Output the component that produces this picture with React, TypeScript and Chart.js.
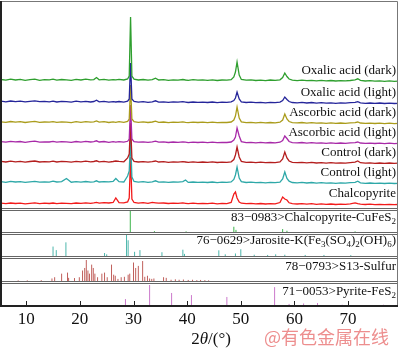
import React, { useEffect, useRef } from "react";
import { Chart, registerables } from "chart.js";
Chart.register(...registerables);

// ---------- data ----------
const twoTheta = [
  5.3, 6.2, 7.1, 8.0, 8.9, 9.8, 10.7, 11.6, 12.5, 13.4,
  14.3, 15.0, 15.7, 16.6, 17.5, 18.4, 19.3, 20.2, 21.1, 22.0,
  22.6, 23.1, 23.6, 24.5, 25.4, 26.2, 26.7, 27.3, 28.2, 28.9,
  29.2, 29.45, 29.7, 30.1, 30.9, 31.8, 32.7, 33.5, 34.1, 34.7,
  35.6, 36.5, 37.4, 38.3, 39.2, 39.7, 40.2, 41.1, 42.0, 42.9,
  43.8, 44.7, 45.6, 46.5, 47.4, 48.2, 48.7, 49.0, 49.3, 49.7,
  50.1, 51.0, 51.9, 52.8, 53.7, 54.6, 55.5, 56.4, 57.3, 57.8,
  58.2, 58.6, 59.0, 59.6, 60.5, 61.4, 62.3, 63.2, 64.1, 65.0,
  65.9, 66.8, 67.7, 68.6, 69.5, 70.4, 71.3, 71.8, 72.3, 73.2,
  74.1, 75.0, 75.9, 76.8, 77.7, 78.6, 79.3,
];

const oxalicDark = [
  1.5, 0.8, 1.9, 1.0, 1.6, 0.6, 1.4, 1.9, 0.7, 1.3,
  1.1, 1.8, 0.9, 1.5, 1.2, 0.7, 1.6, 1.0, 1.8, 1.2,
  1.4, 3.5, 1.2, 1.6, 0.8, 1.4, 1.1, 1.7, 1.0, 2.0,
  5, 64, 5, 1.8, 1.0, 1.5, 0.8, 1.3, 2.8, 1.0,
  1.4, 0.7, 1.2, 0.9, 1.5, 1.0, 0.6, 1.3, 0.8, 1.1,
  0.7, 1.2, 0.5, 1.0, 0.8, 1.4, 4, 9, 19, 6,
  1.5, 0.8, 1.1, 0.5, 0.9, 0.4, 1.0, 0.6, 1.2, 3.5,
  8, 4.5, 2, 0.8, 0.4, 0.9, 0.3, 0.7, 0.2, 0.6,
  0.1, 0.5, 0.0, 0.4, 0.1, 0.5, 1.2, 2.2, 0.6, 0.0,
  0.3, -0.2, 0.2, -0.3, 0.1, -0.4, -0.1,
];

const oxalicLight = [
  1.8, 1.2, 2.0, 1.4, 1.9, 1.1, 1.7, 2.1, 1.3, 1.6,
  1.2, 1.9, 1.0, 1.7, 1.3, 0.9, 1.8, 1.2, 1.6, 1.0,
  1.5, 2.8, 1.1, 1.6, 0.9, 1.4, 1.0, 1.5, 0.8, 1.8,
  4, 40, 4, 1.5, 0.9, 1.3, 0.7, 1.2, 2.2, 0.9,
  1.2, 0.6, 1.1, 0.8, 1.3, 0.9, 0.5, 1.0, 0.6, 0.9,
  0.5, 1.0, 0.4, 0.8, 0.6, 1.1, 2.5, 5, 11, 4,
  1.2, 0.5, 0.8, 0.3, 0.7, 0.2, 0.6, 0.3, 0.9, 2.5,
  6, 3.5, 1.5, 0.5, 0.2, 0.6, 0.0, 0.5, -0.1, 0.3,
  -0.2, 0.2, -0.3, 0.1, -0.2, 0.3, 0.6, 1.4, 0.2, -0.3,
  0.0, -0.4, 0.0, -0.5, -0.1, -0.5, -0.3,
];

const ascorbicDark = [
  1.2, 0.6, 1.5, 0.9, 1.3, 0.5, 1.1, 1.6, 0.6, 1.0,
  0.8, 1.4, 0.6, 1.2, 0.9, 0.4, 1.3, 0.7, 1.4, 0.8,
  1.1, 2.0, 0.8, 1.3, 0.5, 1.1, 0.7, 1.3, 0.6, 1.6,
  4, 38, 4, 1.3, 0.7, 1.1, 0.5, 1.0, 1.8, 0.7,
  1.0, 0.4, 0.9, 0.6, 1.2, 0.7, 0.3, 0.9, 0.5, 0.8,
  0.4, 0.9, 0.3, 0.7, 0.5, 1.0, 3, 7, 16, 5,
  1.1, 0.4, 0.7, 0.2, 0.6, 0.1, 0.5, 0.2, 0.8, 3,
  9, 4, 1.5, 0.4, 0.1, 0.5, -0.1, 0.4, -0.2, 0.2,
  -0.3, 0.1, -0.4, 0.0, -0.3, 0.2, 0.4, 1.0, 0.0, -0.4,
  -0.1, -0.5, -0.2, -0.6, -0.2, -0.6, -0.4,
];

const ascorbicLight = [
  1.4, 0.8, 1.7, 1.1, 1.5, 0.7, 1.3, 1.8, 0.8, 1.2,
  1.0, 1.6, 0.8, 1.4, 1.1, 0.6, 1.5, 0.9, 1.6, 1.0,
  1.3, 2.2, 1.0, 1.5, 0.7, 1.3, 0.9, 1.4, 0.8, 1.7,
  4, 38, 4, 1.4, 0.8, 1.2, 0.6, 1.1, 1.9, 0.8,
  1.1, 0.5, 1.0, 0.7, 1.2, 0.8, 0.4, 0.9, 0.5, 0.8,
  0.4, 0.9, 0.3, 0.7, 0.5, 1.0, 3, 6, 15, 7,
  1.4, 0.4, 0.7, 0.2, 0.6, 0.1, 0.5, 0.2, 0.8, 2.5,
  7, 4.5, 1.5, 0.4, 0.1, 0.5, -0.1, 0.4, -0.2, 0.2,
  -0.3, 0.1, -0.4, 0.0, -0.3, 0.2, 0.4, 1.0, 0.0, -0.4,
  -0.1, -0.5, -0.2, -0.6, -0.2, -0.6, -0.4,
];

const controlDark = [
  1.6, 1.0, 1.8, 1.2, 1.7, 0.9, 1.5, 2.0, 1.0, 1.4,
  1.2, 1.8, 1.0, 1.6, 1.3, 0.8, 1.7, 1.1, 1.8, 1.2,
  1.5, 2.2, 1.2, 1.7, 0.9, 1.5, 2.0, 1.6, 1.2, 5,
  9, 40, 5, 1.6, 1.0, 1.4, 0.8, 1.3, 2.0, 1.0,
  1.3, 0.7, 1.2, 0.9, 1.4, 1.0, 0.6, 1.1, 0.7, 1.0,
  0.6, 1.1, 0.5, 0.9, 0.7, 1.2, 3.5, 8, 16, 6,
  1.6, 0.6, 0.9, 0.4, 0.8, 0.3, 0.7, 0.4, 1.0, 4,
  11, 5, 2, 0.6, 0.3, 0.7, 0.1, 0.6, 0.0, 0.4,
  -0.1, 0.3, -0.2, 0.2, -0.1, 0.4, 0.8, 2.0, 0.3, -0.2,
  0.1, -0.3, 0.0, -0.4, 0.0, -0.4, -0.2,
];

const controlLight = [
  1.3, 0.7, 1.6, 1.0, 1.4, 0.6, 1.2, 1.7, 0.8, 1.1,
  0.9, 1.8, 1.0, 1.4, 4.5, 0.8, 1.4, 0.8, 1.5, 0.9,
  1.2, 2.2, 1.0, 1.4, 1.2, 1.6, 4.5, 1.3, 1.0, 7,
  12, 45, 6, 1.5, 0.9, 1.3, 0.7, 1.2, 2.2, 0.9,
  1.1, 0.6, 1.0, 0.8, 1.4, 3.0, 0.6, 1.0, 0.6, 0.9,
  0.5, 1.0, 0.4, 0.8, 0.6, 1.1, 3.5, 8, 16, 5,
  1.4, 0.5, 0.8, 0.3, 0.7, 0.2, 0.6, 0.3, 0.9, 4,
  11, 4.5, 1.8, 0.5, 0.2, 0.6, 0.0, 0.5, -0.1, 0.3,
  -0.2, 0.2, -0.3, 0.1, -0.2, 0.3, 0.7, 1.8, 0.2, -0.3,
  0.0, -0.4, -0.1, -0.5, -0.1, -0.5, -0.3,
];

const chalcopyriteRaw = [
  0.8, 0.3, 1.0, 0.5, 0.9, 0.2, 0.7, 1.1, 0.4, 0.8,
  0.5, 1.0, 0.4, 0.9, 0.6, 0.3, 1.0, 0.6, 1.2, 0.7,
  1.1, 1.6, 0.9, 1.4, 1.0, 1.5, 6, 1.3, 1.1, 2.0,
  6, 47, 5, 1.5, 0.9, 1.3, 0.7, 1.6, 1.2, 0.8,
  1.0, 0.5, 0.9, 0.6, 1.1, 0.7, 0.3, 0.8, 0.4, 0.7,
  0.3, 0.8, 0.2, 0.6, 0.4, 1.5, 10, 12, 6, 2,
  0.8, 0.3, 0.6, 0.1, 0.5, 0.0, 0.4, 0.1, 1.5, 7,
  5, 4, 1.2, 0.3, 0.0, 0.4, -0.2, 0.3, -0.3, 0.1,
  -0.4, 0.0, -0.5, -0.1, -0.4, 0.1, 1.2, 0.3, -0.2, -0.5,
  -0.2, -0.6, -0.3, -0.7, -0.3, -0.7, -0.5,
];

const traceNames = [
  "Oxalic acid (dark)",
  "Oxalic acid (light)",
  "Ascorbic acid (dark)",
  "Ascorbic acid (light)",
  "Control (dark)",
  "Control (light)",
  "Chalcopyrite",
];

// reference patterns: [2θ, relative intensity %]
const refChalcopyrite = [
  [29.4, 100], [33.9, 4], [39.8, 3], [48.7, 25], [49.1, 10],
  [57.8, 14], [58.6, 6], [71.3, 3],
];
const refJarosite = [
  [15.0, 45], [15.6, 28], [17.4, 65], [24.6, 14], [25.0, 8],
  [28.7, 100], [29.0, 75], [30.2, 20], [31.2, 28], [35.3, 18],
  [39.2, 30], [39.5, 10], [45.9, 27], [47.1, 8], [49.0, 12],
  [50.0, 32], [52.5, 6], [55.0, 5], [56.5, 8], [58.2, 6],
  [62.0, 5], [65.5, 5], [70.5, 4],
];
const refSulfur = [
  [8.5, 3], [10.2, 3], [12.8, 4], [14.8, 12], [15.3, 18], [16.6, 35],
  [17.7, 40], [17.9, 15], [19.0, 14], [19.9, 18], [20.5, 50],
  [20.9, 62], [21.2, 100], [21.5, 50], [21.8, 35], [22.2, 78],
  [22.5, 62], [22.8, 35], [23.3, 18], [24.1, 35], [24.6, 40],
  [25.1, 18], [25.9, 78], [26.3, 30], [26.6, 25], [27.1, 10],
  [27.7, 18], [28.3, 20], [29.0, 30], [29.3, 35], [30.0, 88],
  [30.4, 62], [30.9, 72], [31.7, 95], [32.1, 20], [32.6, 25],
  [33.0, 12], [33.4, 10], [33.8, 12], [35.6, 18], [36.1, 15],
  [37.0, 6], [37.8, 8], [38.5, 6], [39.3, 7], [40.2, 5],
  [41.0, 6], [41.8, 4], [42.5, 5], [43.3, 4], [44.0, 3],
];
const refPyrite = [
  [28.5, 33], [33.0, 100], [37.1, 62], [40.8, 52], [47.4, 43],
  [56.3, 90], [59.0, 10], [61.7, 12], [64.3, 14], [68.9, 6],
  [76.6, 6], [78.9, 5],
];

type Seg = [string, boolean];
const refLabels: Seg[][] = [
  [["83\u22120983>Chalcopyrite-CuFeS", false], ["2", true]],
  [["76\u22120629>Jarosite-K(Fe", false], ["3", true], ["(SO", false], ["4", true], [")", false], ["2", true], ["(OH)", false], ["6", true], [")", false]],
  [["78\u22120793>S13-Sulfur", false]],
  [["71\u22120053>Pyrite-FeS", false], ["2", true]],
];

const xTicks = [10, 20, 30, 40, 50, 60, 70];

// ---------- layout / style ----------
const traces = [oxalicDark, oxalicLight, ascorbicDark, ascorbicLight, controlDark, controlLight, chalcopyriteRaw];
const traceOffsets = [225, 203, 183, 163, 143, 123, 102];
const traceColors = ["#2f9f2f", "#25259a", "#aa9c1c", "#a82aa8", "#b41e1e", "#2ea8a8", "#f21a1a"];
const refs = [refChalcopyrite, refJarosite, refSulfur, refPyrite];
const refColors = ["#3cb44a", "#4db6ac", "#c0605c", "#cc7acc"];
const panelBases = [74, 50, 25, 0];
const separators = [97, 73, 49, 24];
const refLabelY = [88, 65, 39, 14];
const stickScale = 0.21;
const SERIF = '"Times New Roman", "Liberation Serif", serif';

function drawRich(ctx: CanvasRenderingContext2D, segs: Seg[], rightX: number, cy: number) {
  const main = `13px ${SERIF}`;
  const sub = `9px ${SERIF}`;
  let w = 0;
  for (const [t, s] of segs) {
    ctx.font = s ? sub : main;
    w += ctx.measureText(t).width;
  }
  let xx = rightX - w;
  ctx.textAlign = "left";
  ctx.textBaseline = "middle";
  for (const [t, s] of segs) {
    ctx.font = s ? sub : main;
    ctx.fillText(t, xx, s ? cy + 4 : cy);
    xx += ctx.measureText(t).width;
  }
}

const decor = {
  id: "decor",
  afterDatasetsDraw(chart: any) {
    const { ctx, chartArea: a, scales } = chart;
    const x = scales.x;
    const y = scales.y;
    ctx.save();
    // panel separators (double lines)
    ctx.strokeStyle = "#666";
    ctx.lineWidth = 1;
    for (const s of separators) {
      for (const d of [-1, 1]) {
        const py = Math.round(y.getPixelForValue(s + d)) + 0.5;
        ctx.beginPath();
        ctx.moveTo(a.left, py);
        ctx.lineTo(a.right, py);
        ctx.stroke();
      }
    }
    // frame
    ctx.strokeStyle = "#777";
    ctx.lineWidth = 1;
    ctx.beginPath();
    ctx.moveTo(a.left, a.top + 0.5);
    ctx.lineTo(a.right - 0.5, a.top + 0.5);
    ctx.lineTo(a.right - 0.5, a.bottom);
    ctx.stroke();
    ctx.strokeStyle = "#222";
    ctx.lineWidth = 2;
    ctx.beginPath();
    ctx.moveTo(a.left, a.top);
    ctx.lineTo(a.left, a.bottom);
    ctx.lineTo(a.right, a.bottom);
    ctx.stroke();
    // inward tick marks
    ctx.lineWidth = 1;
    for (const t of xTicks) {
      const px = Math.round(x.getPixelForValue(t)) + 0.5;
      ctx.beginPath();
      ctx.moveTo(px, a.bottom);
      ctx.lineTo(px, a.bottom - 5);
      ctx.stroke();
    }
    // trace labels
    ctx.fillStyle = "#111";
    ctx.font = `13px ${SERIF}`;
    ctx.textAlign = "right";
    ctx.textBaseline = "middle";
    traceNames.forEach((n, i) => {
      ctx.fillText(n, a.right - 2, y.getPixelForValue(traceOffsets[i] + 10));
    });
    // reference labels
    refLabels.forEach((segs, i) => {
      drawRich(ctx, segs, a.right - 2, y.getPixelForValue(refLabelY[i]));
    });
    ctx.restore();
  },
  afterDraw(chart: any) {
    const { ctx } = chart;
    ctx.save();
    // axis title 2θ/(°)
    ctx.fillStyle = "#111";
    ctx.textBaseline = "middle";
    ctx.textAlign = "left";
    const parts: [string, string][] = [
      ["2", `17px ${SERIF}`],
      ["\u03b8", `italic 17px ${SERIF}`],
      ["/(\u00b0)", `17px ${SERIF}`],
    ];
    let w = 0;
    for (const [t, f] of parts) { ctx.font = f; w += ctx.measureText(t).width; }
    let xx = 211 - w / 2;
    for (const [t, f] of parts) {
      ctx.font = f;
      ctx.fillText(t, xx, 340);
      xx += ctx.measureText(t).width;
    }
    // watermark
    ctx.fillStyle = "rgba(232,110,110,0.78)";
    ctx.font = `18px "Noto Sans CJK SC", sans-serif`;
    ctx.textAlign = "right";
    ctx.fillText("@有色金属在线", 389, 337);
    ctx.restore();
  },
};

export default function App() {
  const ref = useRef<HTMLCanvasElement>(null);
  useEffect(() => {
    const datasets: any[] = traces.map((vals, i) => ({
      label: traceNames[i],
      data: twoTheta.map((t, j) => ({ x: t, y: traceOffsets[i] + vals[j] })),
      borderColor: traceColors[i],
      borderWidth: 1.3,
      pointRadius: 0,
      tension: 0,
      fill: false,
    }));
    refs.forEach((list, k) => {
      datasets.push({
        label: "ref" + k,
        data: list.flatMap(([t, rel]) => [
          { x: t, y: panelBases[k] },
          { x: t, y: panelBases[k] + rel * stickScale },
          { x: t, y: null },
        ]),
        borderColor: refColors[k],
        borderWidth: 1,
        pointRadius: 0,
        spanGaps: false,
        fill: false,
      });
    });
    const chart = new Chart(ref.current as HTMLCanvasElement, {
      type: "line",
      data: { datasets },
      options: {
        responsive: false,
        animation: false,
        devicePixelRatio: 1,
        layout: { padding: { left: 1, right: 2, top: 1, bottom: 0 } },
        plugins: { legend: { display: false }, tooltip: { enabled: false } },
        scales: {
          x: {
            type: "linear",
            min: 5.3,
            max: 79.3,
            afterBuildTicks: (s: any) => { s.ticks = xTicks.map((v) => ({ value: v })); },
            afterFit: (s: any) => { s.height = 46; },
            grid: { display: false, drawTicks: false },
            border: { display: false },
            ticks: { padding: 3, color: "#111", font: { family: SERIF, size: 17 }, maxRotation: 0, autoSkip: false },
          },
          y: { display: false, min: 0, max: 305 },
        },
      } as any,
      plugins: [decor],
    });
    return () => chart.destroy();
  }, []);
  return (
    <div style={{ position: "absolute", left: 0, top: 0, width: 400, height: 352, background: "#fff" }}>
      <canvas ref={ref} width={400} height={352} style={{ display: "block", width: 400, height: 352 }} />
    </div>
  );
}
